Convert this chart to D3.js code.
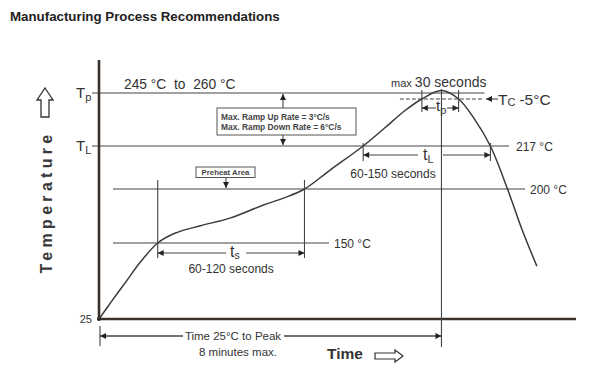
<!DOCTYPE html>
<html><head><meta charset="utf-8">
<script src="https://cdn.jsdelivr.net/npm/d3@7"></script>
<style>
html,body{margin:0;padding:0;background:#fff;}
svg text{font-family:"Liberation Sans",Arial,sans-serif;fill:#333;}
</style></head>
<body>
<svg id="c" width="609" height="386"></svg>
<script>
// ---- data (schematic reflow profile) ----
const title = "Manufacturing Process Recommendations";
const curveTime = [0,11,23,34,48,62,83,107,134,152,168,189,216,234,250,264,280,294,307,320,334,346,358];
const curveTemp = [25,56,89,119,150,159,166,173,185,192,200,207.5,217,228,238,245,252,245,233,217,200,162,112];
const tempStops = [25,150,200,217,245,250];
const refTemps = [217,200,150];
const refLabels = ["217 °C","200 °C","150 °C"];
const tpTemp = 250, tcTemp = 245, tlTemp = 217;
const tsWindow = [48,168];
const tlWindow = [216,320];
const tpWindow = [264,294];
const peakTime = 280;
const timeDomain = [0,390];

const svg = d3.select("#c");
const x = d3.scaleLinear().domain(timeDomain).range([99,576]);
const y = d3.scaleLinear().domain(tempStops).range([319,243,189,146,99,93]);
const ink = "#444", axisInk = "#3a322c";

const defs = svg.append("defs");
defs.append("marker").attr("id","ah").attr("viewBox","0 0 10 10").attr("refX",10).attr("refY",5)
  .attr("markerWidth",7).attr("markerHeight",6).attr("orient","auto-start-reverse")
  .attr("markerUnits","userSpaceOnUse")
  .append("path").attr("d","M0,0L10,5L0,10z").attr("fill","#222");

function line(x1,y1,x2,y2,opt={}){
  const l = svg.append("line").attr("x1",x1).attr("y1",y1).attr("x2",x2).attr("y2",y2)
    .attr("stroke",opt.c||ink).attr("stroke-width",opt.w||1.1);
  if(opt.dash) l.attr("stroke-dasharray",opt.dash);
  if(opt.end) l.attr("marker-end","url(#ah)");
  return l;
}
function txt(s,x0,y0,size,opt={}){
  return svg.append("text").attr("x",x0).attr("y",y0).attr("font-size",size)
    .attr("font-weight",opt.b?"bold":"normal").attr("text-anchor",opt.a||"start")
    .style("white-space","pre").text(s);
}

// title
txt(title,10,21,13.3,{b:true}).style("fill","#222");

// reference lines
line(92,y(tpTemp),x(peakTime)+43,y(tpTemp));
line(92,y(tlTemp),509,y(tlTemp));
line(x(tpWindow[0])-22,y(tcTemp),x(tpWindow[1])+25,y(tcTemp),{dash:"4,2",w:1});
line(113,y(200),525,y(200));
line(113,y(150),329,y(150));
refTemps.forEach((t,i)=>{
  const xx = [516,530,334][i];
  txt(refLabels[i],xx,y(t)+5,12);
});

// axes
line(x(0),60,x(0),y(25)+1,{c:axisInk,w:2.6});
line(x(0)-1,y(25),x(timeDomain[1]),y(25),{c:axisInk,w:2.6});
svg.append("circle").attr("cx",x(0)).attr("cy",y(25)).attr("r",2).attr("fill","#222");
txt("25",92,y(25)+4,11,{a:"end"});

// axis labels T_p and T_L
const tp = txt("T",76,y(tpTemp)+5,15); tp.append("tspan").attr("font-size",11).attr("dy",3).text("p");
const tl = txt("T",76,y(tlTemp)+5,15); tl.append("tspan").attr("font-size",11).attr("dy",3).text("L");

// Temperature label + up arrow
svg.append("text").attr("transform","translate(52,202) rotate(-90)").attr("text-anchor","middle")
  .attr("font-size",16).attr("font-weight","bold").attr("letter-spacing",4.3).style("fill","#3a3a3a").text("Temperature");
svg.append("path").attr("d","M45,88 L53,100 L49,100 L49,117 L41,117 L41,100 L37,100 Z")
  .attr("fill","none").attr("stroke","#333").attr("stroke-width",1.3);

// curve
const pts = curveTime.map((t,i)=>[x(t),y(curveTemp[i])]);
svg.append("path").attr("d",d3.line().curve(d3.curveCatmullRom.alpha(0.5))(pts))
  .attr("fill","none").attr("stroke","#3b3b3b").attr("stroke-width",1.5);

// 245 to 260
txt("245 °C  to  260 °C",124,89,13.8);

// ramp rate box
svg.append("rect").attr("x",217).attr("y",108).attr("width",139).attr("height",27)
  .attr("fill","#fff").attr("stroke","#555").attr("stroke-width",1);
txt("Max. Ramp Up Rate = 3°C/s",221,120,8.4,{b:true}).style("fill","#444");
txt("Max. Ramp Down Rate = 6°C/s",221,129.5,8.4,{b:true}).style("fill","#444");
line(283,108,283,y(tpTemp)+1,{end:true});
line(283,135,283,y(tlTemp)-1,{end:true});

// preheat box
svg.append("rect").attr("x",196).attr("y",167).attr("width",59).attr("height",10.5)
  .attr("fill","#fff").attr("stroke","#555").attr("stroke-width",1);
txt("Preheat Area",225.5,175.3,7.8,{b:true,a:"middle"}).style("fill","#444");
line(226,177.5,226,y(200)-1,{end:true});

// ts
tsWindow.forEach(t=>line(x(t),180,x(t),258));
const tsY = 253, tsMid = (x(tsWindow[0])+x(tsWindow[1]))/2;
line(tsMid-5,tsY,x(tsWindow[0]),tsY,{end:true});
line(tsMid+15,tsY,x(tsWindow[1]),tsY,{end:true});
const ts = txt("t",tsMid-1,257,16); ts.append("tspan").attr("font-size",10.5).attr("dy",2).text("s");
txt("60-120 seconds",tsMid,273,12,{a:"middle"});

// tL
tlWindow.forEach(t=>line(x(t),143,x(t),161));
const tlY = 155;
line(418,tlY,x(tlWindow[0]),tlY,{end:true});
line(443,tlY,x(tlWindow[1]),tlY,{end:true});
const tlt = txt("t",423,160,16); tlt.append("tspan").attr("font-size",11).attr("dy",3).text("L");
txt("60-150 seconds",393,178,12,{a:"middle"});

// peak line
line(x(peakTime),89,x(peakTime),347);

// tp
tpWindow.forEach(t=>line(x(t),90,x(t),112));
const tpY = 108;
line(436,tpY,x(tpWindow[0]),tpY,{end:true});
line(447,tpY,x(tpWindow[1]),tpY,{end:true});
const tpt = txt("t",436,111,15); tpt.append("tspan").attr("font-size",11).attr("dy",3).text("p");
const mx = txt("max ",391,87,11); mx.append("tspan").attr("font-size",14).text("30 seconds");

// Tc -5°C
line(498,99,486,99,{end:true});
const tc = txt("T",498,104.5,15.5); tc.append("tspan").attr("font-size",11).attr("dy",1.5).text("C");
tc.append("tspan").attr("font-size",15.5).attr("dx",4).attr("dy",-1.5).text("-5°C");

// bottom time arrow
line(x(0)+1,326,x(0)+1,346);
line(183,336,x(0)+1,336,{end:true,w:1.6});
line(284,336,x(peakTime),336,{end:true,w:1.6});
txt("Time 25°C to Peak",233,340,11.5,{a:"middle"});
txt("8 minutes max.",238,356,11.5,{a:"middle"});

// Time label
txt("Time",327,359,15.5,{b:true}).style("fill","#333");
svg.append("path").attr("d","M375,353 L395,353 L395,350 L403,356 L395,362 L395,359 L375,359 Z")
  .attr("fill","none").attr("stroke","#333").attr("stroke-width",1.2);
</script>
</body></html>
